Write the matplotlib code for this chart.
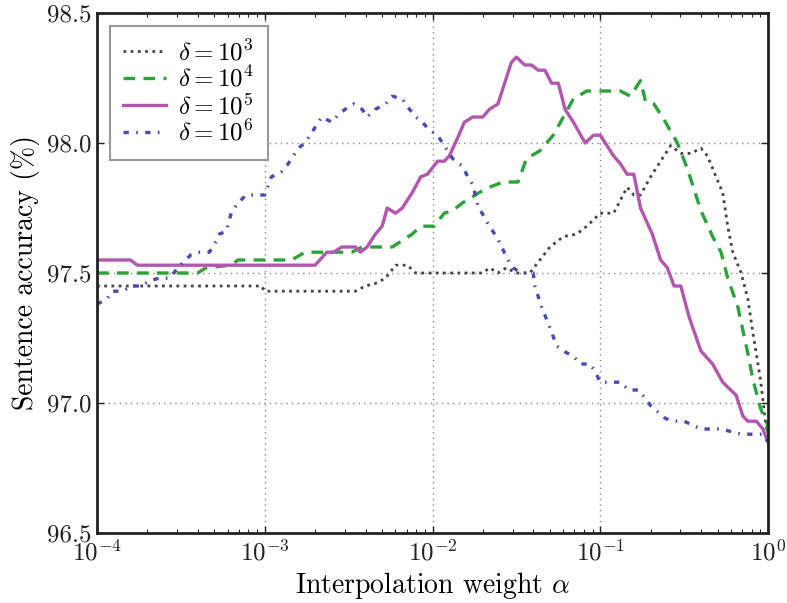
import numpy as np
import matplotlib
matplotlib.use("Agg")
import matplotlib.pyplot as plt
from matplotlib.ticker import LogLocator, LogFormatterSciNotation, FormatStrFormatter

plt.rcParams['font.family'] = ['cmr10', 'DejaVu Serif']
plt.rcParams['mathtext.fontset'] = 'cm'
plt.rcParams['axes.formatter.use_mathtext'] = True

# log10 of interpolation weight alpha, and sentence accuracy (%)
exp_d3 = [-4.00, -3.02, -3.00, -2.46, -2.40, -2.34, -2.28, -2.22, -2.15, -2.10, -1.70, -1.66, -1.61,
          -1.56, -1.50, -1.42, -1.36, -1.30, -1.22, -1.14, -1.08, -1.00, -0.92, -0.84, -0.80, -0.76,
          -0.70, -0.64, -0.58, -0.52, -0.46, -0.40, -0.36, -0.31, -0.27, -0.24, -0.21, -0.16, -0.12,
          -0.09, -0.045, -0.015, 0.00]
acc_d3 = [97.45, 97.45, 97.43, 97.43, 97.45, 97.46, 97.48, 97.53, 97.53, 97.50, 97.50, 97.52, 97.50,
          97.52, 97.50, 97.50, 97.55, 97.60, 97.64, 97.65, 97.68, 97.73, 97.73, 97.83, 97.80, 97.80,
          97.87, 97.93, 97.99, 97.96, 97.96, 97.98, 97.95, 97.87, 97.81, 97.68, 97.58, 97.50, 97.40,
          97.27, 97.09, 96.93, 96.87]

exp_d4 = [-4.00, -3.40, -3.35, -3.20, -3.16, -2.84, -2.76, -2.48, -2.42, -2.24, -2.12, -2.07, -1.99,
          -1.93, -1.88, -1.82, -1.72, -1.66, -1.58, -1.49, -1.44, -1.36, -1.28, -1.22, -1.16, -1.08,
          -0.88, -0.82, -0.76, -0.73, -0.68, -0.62, -0.54, -0.48, -0.40, -0.33, -0.28, -0.24, -0.18,
          -0.12, -0.09, -0.045, -0.005, 0.00]
acc_d4 = [97.50, 97.50, 97.52, 97.53, 97.55, 97.55, 97.58, 97.58, 97.60, 97.60, 97.65, 97.68, 97.68,
          97.73, 97.74, 97.77, 97.81, 97.83, 97.85, 97.85, 97.94, 97.97, 98.03, 98.10, 98.17, 98.20,
          98.20, 98.18, 98.24, 98.16, 98.15, 98.09, 98.00, 97.90, 97.74, 97.64, 97.58, 97.48, 97.37,
          97.19, 97.09, 96.98, 96.92, 96.88]

exp_d5 = [-4.00, -3.80, -3.76, -2.70, -2.63, -2.59, -2.54, -2.46, -2.43, -2.39, -2.34, -2.30, -2.27,
          -2.22, -2.18, -2.12, -2.07, -2.03, -1.97, -1.93, -1.90, -1.85, -1.81, -1.76, -1.70, -1.66,
          -1.61, -1.57, -1.53, -1.50, -1.45, -1.41, -1.37, -1.33, -1.29, -1.25, -1.21, -1.16, -1.09,
          -1.04, -1.00, -0.92, -0.88, -0.84, -0.80, -0.76, -0.69, -0.64, -0.60, -0.56, -0.52, -0.47,
          -0.40, -0.33, -0.27, -0.19, -0.15, -0.12, -0.07, -0.03, 0.00]
acc_d5 = [97.55, 97.55, 97.53, 97.53, 97.58, 97.58, 97.60, 97.60, 97.58, 97.60, 97.65, 97.68, 97.75,
          97.73, 97.75, 97.81, 97.87, 97.88, 97.93, 97.93, 97.95, 98.02, 98.08, 98.10, 98.10, 98.13,
          98.15, 98.23, 98.31, 98.33, 98.30, 98.30, 98.28, 98.28, 98.23, 98.23, 98.13, 98.08, 98.00,
          98.03, 98.03, 97.95, 97.92, 97.88, 97.88, 97.75, 97.65, 97.55, 97.52, 97.45, 97.45, 97.33,
          97.20, 97.15, 97.08, 97.03, 96.95, 96.93, 96.93, 96.90, 96.85]

exp_d6 = [-4.00, -3.94, -3.91, -3.85, -3.79, -3.73, -3.69, -3.63, -3.57, -3.49, -3.44, -3.39, -3.33,
          -3.30, -3.27, -3.23, -3.20, -3.16, -3.11, -3.05, -3.00, -2.96, -2.90, -2.86, -2.80, -2.76,
          -2.72, -2.66, -2.60, -2.56, -2.52, -2.47, -2.42, -2.39, -2.34, -2.28, -2.24, -2.18, -2.15,
          -2.10, -2.06, -2.02, -1.97, -1.94, -1.91, -1.88, -1.82, -1.79, -1.76, -1.73, -1.67, -1.64,
          -1.61, -1.55, -1.52, -1.47, -1.40, -1.39, -1.35, -1.30, -1.26, -1.22, -1.16, -1.12, -1.06,
          -1.03, -1.00, -0.88, -0.83, -0.77, -0.70, -0.61, -0.56, -0.50, -0.40, -0.28, -0.16, -0.03, 0.00]
acc_d6 = [97.38, 97.40, 97.43, 97.43, 97.45, 97.45, 97.47, 97.48, 97.48, 97.54, 97.57, 97.58, 97.58,
          97.61, 97.65, 97.66, 97.73, 97.77, 97.80, 97.80, 97.80, 97.87, 97.89, 97.92, 97.98, 98.00,
          98.04, 98.10, 98.08, 98.11, 98.13, 98.15, 98.13, 98.10, 98.13, 98.15, 98.18, 98.17, 98.14,
          98.10, 98.08, 98.05, 98.03, 98.00, 97.97, 97.94, 97.91, 97.87, 97.84, 97.76, 97.69, 97.66,
          97.63, 97.55, 97.52, 97.50, 97.50, 97.45, 97.37, 97.29, 97.22, 97.20, 97.18, 97.15, 97.15,
          97.12, 97.08, 97.08, 97.05, 97.05, 96.99, 96.94, 96.93, 96.93, 96.90, 96.90, 96.88, 96.88, 96.85]

labels = [r'$\delta = 10^3$', r'$\delta = 10^4$', r'$\delta = 10^5$', r'$\delta = 10^6$']
yticks = [96.5, 97.0, 97.5, 98.0, 98.5]

fig = plt.figure(figsize=(7.87, 6.03), dpi=100)
ax = fig.add_axes([97/787, 1 - 533/603, (768 - 97)/787, (533 - 13)/603])

ax.plot(10.0 ** np.array(exp_d3), acc_d3, linestyle=(0, (1, 1.6)), color='#444444', lw=2.0, label=labels[0])
ax.plot(10.0 ** np.array(exp_d4), acc_d4, linestyle=(0, (3.5, 2.5)), color='#2ca23a', lw=2.4, label=labels[1])
ax.plot(10.0 ** np.array(exp_d5), acc_d5, linestyle='-', color='#b356b0', lw=2.4, label=labels[2])
ax.plot(10.0 ** np.array(exp_d6), acc_d6, linestyle=(0, (1.6, 2.2, 0.5, 2.2)), color='#4a4ab0', lw=2.4, label=labels[3])

ax.set_xscale('log')
ax.set_xlim(1e-4, 1)
ax.set_ylim(96.5, 98.5)
ax.set_yticks(yticks)
ax.yaxis.set_major_formatter(FormatStrFormatter('%.1f'))
ax.xaxis.set_major_locator(LogLocator(base=10, numticks=10))
ax.xaxis.set_minor_locator(LogLocator(base=10, subs=np.arange(2, 10), numticks=20))
ax.xaxis.set_major_formatter(LogFormatterSciNotation())

ax.grid(True, which='major', linestyle=(0, (1, 3)), color='#888888', lw=1.0)
ax.tick_params(which='both', direction='in', top=True, right=True, labelsize=18, colors='#222222')
ax.tick_params(which='major', length=5, width=1)
ax.tick_params(which='minor', length=3, width=0.8)
ax.tick_params(axis='x', pad=5)
ax.tick_params(axis='y', pad=4)
for s in ax.spines.values():
    s.set_linewidth(2.0)
    s.set_color('#222222')

ax.set_xlabel(r'Interpolation weight $\alpha$', fontsize=20, labelpad=3)
ax.set_ylabel('Sentence accuracy (%)', fontsize=20, labelpad=5)

leg = ax.legend(loc='upper left', fontsize=18, fancybox=False, framealpha=1,
                edgecolor='#999999', handlelength=1.7, borderpad=0.55, labelspacing=0.05,
                handletextpad=0.5, borderaxespad=0.5)
leg.get_frame().set_linewidth(1.5)

fig.savefig('out.png', dpi=100)
